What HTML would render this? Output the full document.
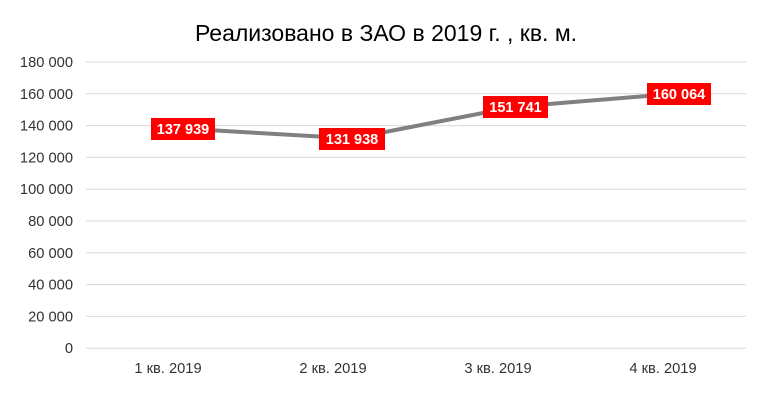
<!DOCTYPE html><html><head><meta charset="utf-8"><style>body{margin:0;background:#fff}svg{display:block}</style></head><body>
<svg width="773" height="417" xmlns="http://www.w3.org/2000/svg" font-family="Liberation Sans, Arial, sans-serif">
<rect width="773" height="417" fill="#fff"/>
<text x="386" y="41" text-anchor="middle" font-size="23" fill="#000">Реализовано в ЗАО в 2019 г. , кв. м.</text>
<g stroke="#d9d9d9" stroke-width="1">
<line x1="86" x2="746" y1="62" y2="62"/><line x1="86" x2="746" y1="93.8" y2="93.8"/><line x1="86" x2="746" y1="125.6" y2="125.6"/><line x1="86" x2="746" y1="157.4" y2="157.4"/><line x1="86" x2="746" y1="189.2" y2="189.2"/><line x1="86" x2="746" y1="221" y2="221"/><line x1="86" x2="746" y1="252.8" y2="252.8"/><line x1="86" x2="746" y1="284.6" y2="284.6"/><line x1="86" x2="746" y1="316.4" y2="316.4"/><line x1="86" x2="746" y1="348.2" y2="348.2"/>
</g>
<g font-size="14.7" fill="#333" text-anchor="end">
<text x="73" y="67">180 000</text><text x="73" y="98.8">160 000</text><text x="73" y="130.6">140 000</text><text x="73" y="162.4">120 000</text><text x="73" y="194.2">100 000</text><text x="73" y="226">80 000</text><text x="73" y="257.8">60 000</text><text x="73" y="289.6">40 000</text><text x="73" y="321.4">20 000</text><text x="73" y="353.2">0</text>
</g>
<g font-size="14.7" fill="#333" text-anchor="middle">
<text x="168" y="373">1 кв. 2019</text><text x="333" y="373">2 кв. 2019</text><text x="498" y="373">3 кв. 2019</text><text x="663" y="373">4 кв. 2019</text>
</g>
<polyline points="183,128.6 352,138.4 515,106.8 679,93.4" fill="none" stroke="#808080" stroke-width="4" stroke-linejoin="round"/>
<g fill="#ff0000"><rect x="151" y="118" width="64" height="22"/><rect x="319" y="128" width="66" height="22"/><rect x="483" y="96" width="65" height="22"/><rect x="647" y="83" width="64" height="22"/></g>
<g font-size="14.5" font-weight="bold" fill="#fff" text-anchor="middle">
<text x="183" y="134">137 939</text><text x="352" y="144">131 938</text><text x="515.5" y="112">151 741</text><text x="679" y="99">160 064</text>
</g>
</svg>
</body></html>
